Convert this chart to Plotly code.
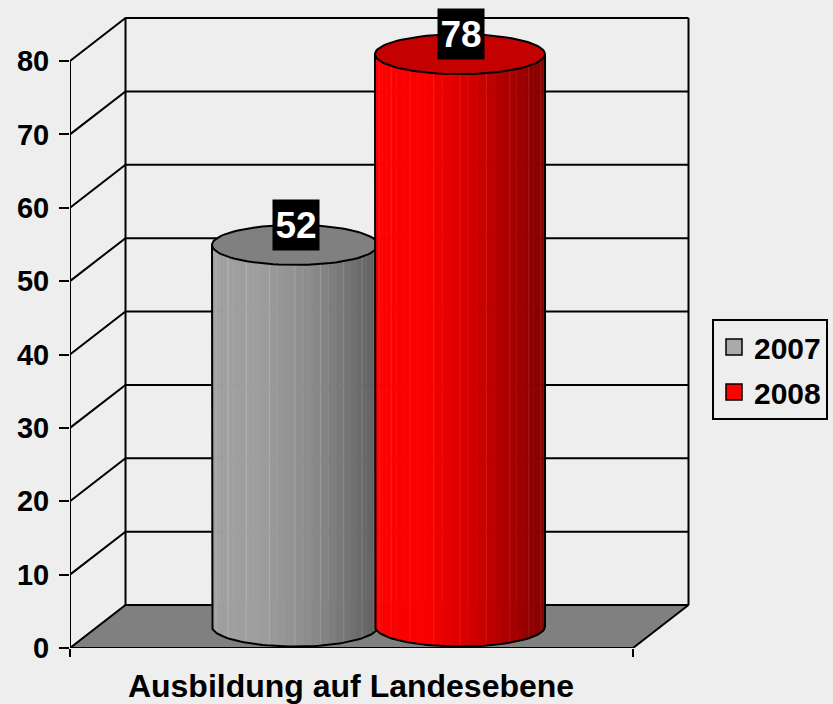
import numpy as np
import plotly.graph_objects as go

# --- data
category = ["Ausbildung auf Landesebene"]
series_names = ["2007", "2008"]
series_values = [52, 78]
y_ticks = [0, 10, 20, 30, 40, 50, 60, 70, 80]

# --- oblique 3D geometry (horizontal axis runs in canvas pixels)
W, H = 833, 704
X0, X1 = 70, 633           # front floor edge
DX = 55.5                  # depth shift, horizontal
UNIT = 7.3375              # px per value unit
DY = 43 / UNIT             # depth shift, in value units
Y_BASE_PX = 648
Y_TOP = 80
BG = "#eeeeee"
cyl_cx = [295, 460]
cyl_a = [83, 85]
ELL_B = 20 / UNIT
stops = [
    [(0, (160, 160, 160)), (.3, (158, 158, 158)), (.6, (140, 140, 140)), (1, (96, 96, 96))],
    [(0, (255, 0, 0)), (.3, (250, 0, 0)), (.6, (205, 0, 0)), (1, (130, 0, 0))],
]
top_fill = ["#808080", "#c40000"]
legend_fill = ["#aaaaaa", "#ff0000"]
N_FACETS = 30

def shade(t, st):
    xs = [s[0] for s in st]
    c = [np.interp(t, xs, [s[1][i] for s in st]) for i in range(3)]
    return c

def rgb(c):
    return "rgb(%d,%d,%d)" % tuple(min(255, max(0, int(v))) for v in c)

fig = go.Figure()

def line(x, y, width=2, color="black"):
    fig.add_trace(go.Scatter(x=x, y=y, mode="lines", line=dict(color=color, width=width),
                             showlegend=False, hoverinfo="skip"))

# floor
fig.add_trace(go.Scatter(x=[X0, X1, X1 + DX, X0 + DX, X0], y=[0, 0, DY, DY, 0], mode="lines",
                         fill="toself", fillcolor="#808080", line=dict(color="black", width=2),
                         showlegend=False, hoverinfo="skip"))
# walls and grid
for v in y_ticks:
    if v > 0:
        line([X0, X0 + DX, X1 + DX], [v, v + DY, v + DY])
line([X0, X0], [0, Y_TOP])
line([X0 + DX, X0 + DX], [DY, Y_TOP + DY])
line([X1 + DX, X1 + DX], [DY, Y_TOP + DY])

# cylinders
for i, val in enumerate(series_values):
    cx, a = cyl_cx[i], cyl_a[i]
    base = DY / 2
    top = val + base
    th = np.linspace(np.pi, 2 * np.pi, N_FACETS + 1)
    for k in range(N_FACETS):
        t0, t1 = th[k], th[k + 1]
        xs = [cx + a * np.cos(t0), cx + a * np.cos(t1), cx + a * np.cos(t1), cx + a * np.cos(t0)]
        ys = [base + ELL_B * np.sin(t0), base + ELL_B * np.sin(t1),
              top + ELL_B * np.sin(t1), top + ELL_B * np.sin(t0)]
        tm = (cx + a * np.cos((t0 + t1) / 2) - (cx - a)) / (2 * a)
        col = shade(tm, stops[i])
        seam = [v + 28 for v in col] if k % 3 == 0 else col
        fig.add_trace(go.Scatter(x=xs + xs[:1], y=ys + ys[:1], mode="lines", fill="toself",
                                 fillcolor=rgb(col), line=dict(color=rgb(seam), width=0.7),
                                 showlegend=False, hoverinfo="skip"))
    # outline of body
    tt = np.linspace(np.pi, 2 * np.pi, 60)
    line([cx - a] + list(cx + a * np.cos(tt)) + [cx + a],
         [top] + list(base + ELL_B * np.sin(tt)) + [top])
    # top cap
    tc = np.linspace(0, 2 * np.pi, 90)
    fig.add_trace(go.Scatter(x=cx + a * np.cos(tc), y=top + ELL_B * np.sin(tc), mode="lines",
                             fill="toself", fillcolor=top_fill[i], line=dict(color="black", width=2),
                             showlegend=False, hoverinfo="skip"))
    fig.add_annotation(x=cx + 1, y=top, yshift=20, text=str(val), showarrow=False,
                       bgcolor="black", width=44, height=48,
                       font=dict(family="Liberation Sans", size=37, color="white", weight="bold"))

# legend keys
for name, c in zip(series_names, legend_fill):
    fig.add_trace(go.Scatter(x=[None], y=[None], mode="markers", name=name, legendgroup=name,
                             marker=dict(symbol="square", size=18, color=c,
                                         line=dict(color="black", width=1.5))))

fig.update_layout(
    width=W, height=H, autosize=False,
    margin=dict(l=0, r=0, t=0, b=0),
    paper_bgcolor=BG, plot_bgcolor=BG,
    font=dict(family="Liberation Sans", color="black"),
    xaxis=dict(domain=[X0 / W, 1], range=[X0, W], showgrid=False, zeroline=False, showline=False,
               automargin=False,
               tickmode="array", tickvals=[(X0 + X1) / 2 - 0.5], ticktext=category, ticks="",
               tickfont=dict(size=32, weight="bold"), ticklabelstandoff=16,
               minor=dict(tickmode="array", tickvals=[X0, X1], ticks="outside", ticklen=8,
                          tickcolor="black", tickwidth=2)),
    yaxis=dict(domain=[(H - Y_BASE_PX) / H, 1], range=[0, Y_BASE_PX / UNIT], showgrid=False,
               automargin=False,
               zeroline=False, showline=False, tickmode="array", tickvals=y_ticks, ticks="outside",
               ticklen=10, tickwidth=2, tickcolor="black", ticklabelstandoff=4,
               tickfont=dict(size=29, weight="bold")),
    legend=dict(x=712 / W, xanchor="left", y=(H - 319) / H, yanchor="top", bgcolor=BG,
                bordercolor="black", borderwidth=2, font=dict(size=30, weight="bold"),
                itemsizing="trace", tracegroupgap=3, itemwidth=30, entrywidth=100),
    showlegend=True,
)
fig.write_html("out.html", config=dict(displayModeBar=False),
               post_script="document.body.style.margin='0';document.body.style.background='#eeeeee';window.dispatchEvent(new Event('resize'));")
